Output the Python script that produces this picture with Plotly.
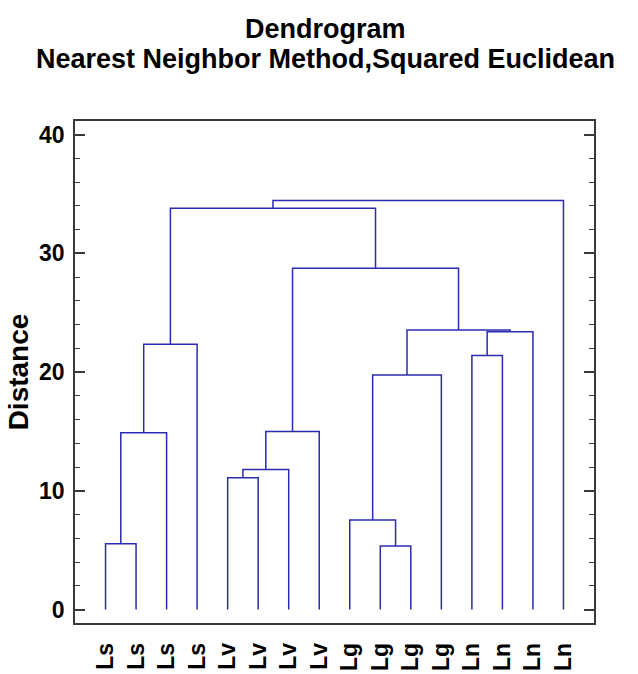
import plotly.graph_objects as go

# ---- data ----
leaf_labels = ["Ls", "Ls", "Ls", "Ls", "Lv", "Lv", "Lv", "Lv",
               "Lg", "Lg", "Lg", "Lg", "Ln", "Ln", "Ln", "Ln"]
# linkage (leaves 0..15, merged nodes numbered from 16)
merge_left = [0, 16, 17, 4, 19, 20, 9, 8, 23, 12, 25, 24, 21, 18, 29]
merge_right = [1, 2, 3, 5, 6, 7, 10, 22, 11, 13, 14, 26, 27, 28, 15]
merge_height = [5.55, 14.9, 22.35, 11.1, 11.8, 15.0, 5.35, 7.55, 19.75,
                21.4, 23.4, 23.55, 28.75, 33.8, 34.45]

y_ticks = [0, 10, 20, 30, 40]
title_lines = ["Dendrogram", "Nearest Neighbor Method,Squared Euclidean"]

# ---- build dendrogram paths from the linkage ----
n_leaves = len(leaf_labels)
leaf_pos = list(range(1, n_leaves + 1))
node_x = {i: leaf_pos[i] for i in range(n_leaves)}
node_h = {i: 0.0 for i in range(n_leaves)}
xs, ys = [], []
for k, (a, b, h) in enumerate(zip(merge_left, merge_right, merge_height)):
    node = n_leaves + k
    xa, xb = node_x[a], node_x[b]
    xs += [xa, xa, xb, xb, None]
    ys += [node_h[a], h, h, node_h[b], None]
    node_x[node] = (xa + xb) / 2
    node_h[node] = h

FONT = "Liberation Sans, Arial, sans-serif"
AX = "#3a3a3a"

fig = go.Figure()
fig.add_trace(go.Scatter(x=xs, y=ys, mode="lines",
                         line=dict(color="#2B2BB3", width=1.5),
                         hoverinfo="skip", showlegend=False))

fig.update_layout(
    width=638, height=674,
    paper_bgcolor="white", plot_bgcolor="white",
    margin=dict(l=75, r=44, t=121, b=51),
    font=dict(family=FONT, color="black"),
)
for txt, ypos in zip(title_lines, [1.183, 1.1245]):
    fig.add_annotation(text="<b>%s</b>" % txt, xref="paper", yref="paper",
                       x=0.4817, y=ypos, xanchor="center", yanchor="middle",
                       showarrow=False, font=dict(family=FONT, size=27, color="black"))

fig.update_xaxes(
    range=[0, n_leaves + 1], tickmode="array", tickvals=leaf_pos,
    ticktext=["<b>%s</b>" % t for t in leaf_labels], tickangle=-90,
    tickfont=dict(family=FONT, size=23, color="black"),
    ticks="", showgrid=False, zeroline=False,
    showline=True, linecolor=AX, linewidth=1.5, mirror=True,
    ticklabelstandoff=9, automargin=False,
)
fig.update_yaxes(
    range=[-1.13, 41.15], tickmode="array", tickvals=y_ticks,
    ticktext=["<b>%d</b>" % v for v in y_ticks],
    tickfont=dict(family=FONT, size=23, color="black"),
    ticks="inside", ticklen=10, tickwidth=1.5, tickcolor=AX,
    minor=dict(ticks="inside", dtick=2, tick0=0, ticklen=5, tickwidth=1.2, tickcolor=AX),
    showgrid=False, zeroline=False,
    showline=True, linecolor=AX, linewidth=1.5, mirror="ticks",
    ticklabelstandoff=4, automargin=False,
    title=dict(text="<b>Distance</b>", font=dict(family=FONT, size=28, color="black"), standoff=2),
)

fig.write_html("out.html")
